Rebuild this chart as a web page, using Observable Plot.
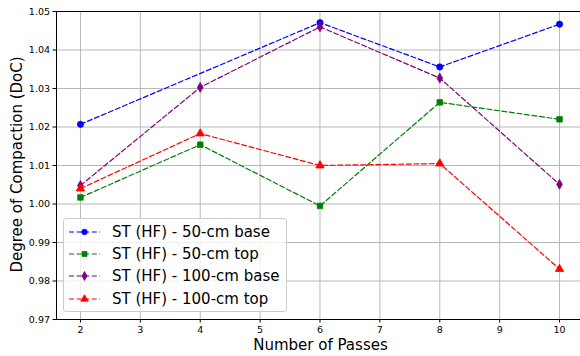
<!DOCTYPE html>
<html>
<head>
<meta charset="utf-8">
<script src="https://cdn.jsdelivr.net/npm/d3@7"></script>
<script src="https://cdn.jsdelivr.net/npm/@observablehq/plot@0.6"></script>
<style>
  body { margin: 0; background: #fff; }
  #wrap { position: relative; width: 580px; height: 356px; overflow: hidden; font-family: "DejaVu Sans", sans-serif; }
  #legend { position: absolute; left: 63px; top: 218px; width: 222px; height: 92px;
    background: rgba(255,255,255,0.8); border: 1px solid #cccccc; border-radius: 3px; }
  .row { position: absolute; left: 0; height: 22px; display: flex; align-items: center; }
  .row span { font-size: 15px; color: #000; margin-left: 6px; white-space: nowrap; }
</style>
</head>
<body>
<div id="wrap"></div>
<script>
// ---- data ----
const seriesNames = ["ST (HF) - 50-cm base", "ST (HF) - 50-cm top", "ST (HF) - 100-cm base", "ST (HF) - 100-cm top"];
const passesBase50 = [2, 6, 8, 10];
const docBase50 = [1.0207, 1.0471, 1.0356, 1.0467];
const passes = [2, 4, 6, 8, 10];
const docTop50 = [1.0017, 1.0154, 0.9995, 1.0264, 1.0220];
const docBase100 = [1.0048, 1.0303, 1.0460, 1.0327, 1.0051];
const docTop100 = [1.0040, 1.0183, 1.0100, 1.0105, 0.9831];
const xTicks = [2, 3, 4, 5, 6, 7, 8, 9, 10];
const yTicks = [0.97, 0.98, 0.99, 1.00, 1.01, 1.02, 1.03, 1.04, 1.05];

const colors = ["blue", "green", "purple", "red"];
const symbols = ["circle", "square", "diamond", "triangle"];
const d3symbols = [d3.symbolCircle, d3.symbolSquare, d3.symbolDiamond, d3.symbolTriangle];
const radii = [3.1, 3.1, 3.0, 3.1];

const rows = [];
passesBase50.forEach((p, i) => rows.push({series: seriesNames[0], k: 0, x: p, y: docBase50[i]}));
passes.forEach((p, i) => rows.push({series: seriesNames[1], k: 1, x: p, y: docTop50[i]}));
passes.forEach((p, i) => rows.push({series: seriesNames[2], k: 2, x: p, y: docBase100[i]}));
passes.forEach((p, i) => rows.push({series: seriesNames[3], k: 3, x: p, y: docTop100[i]}));

const marks = [
  Plot.gridX(xTicks, {stroke: "#b0b0b0", strokeOpacity: 1, strokeWidth: 0.9}),
  Plot.gridY(yTicks, {stroke: "#b0b0b0", strokeOpacity: 1, strokeWidth: 0.9}),
  Plot.ruleX([1.6], {stroke: "black", strokeWidth: 1}),
  Plot.ruleY([0.97], {stroke: "black", strokeWidth: 1}),
  Plot.ruleY([1.05], {stroke: "black", strokeWidth: 1}),
  Plot.axisX(xTicks, {tickSize: 3.5, tickPadding: 3, fontSize: 9.5, label: null, tickFormat: d => String(d)}),
  Plot.axisY(yTicks, {tickSize: 3.5, tickPadding: 3, fontSize: 9.5, label: null, tickFormat: d3.format(".2f")}),
];
seriesNames.forEach((s, k) => {
  const d = rows.filter(r => r.k === k);
  marks.push(Plot.line(d, {x: "x", y: "y", stroke: colors[k], strokeWidth: 1.2, strokeDasharray: "5,2.6"}));
  marks.push(Plot.dot(d, {x: "x", y: "y", fill: colors[k], stroke: colors[k], strokeWidth: 0.8, symbol: () => symbols[k], r: radii[k]}));
});
marks.push(Plot.text(["Number of Passes"], {frameAnchor: "bottom", lineAnchor: "middle", dy: 26, dx: 2, fontSize: 15, fill: "black"}));
marks.push(Plot.text(["Degree of Compaction (DoC)"], {frameAnchor: "left", textAnchor: "middle", lineAnchor: "middle", dx: -39, dy: -1, rotate: -90, fontSize: 15, fill: "black"}));

const chart = Plot.plot({
  width: 580,
  height: 356,
  marginLeft: 56,
  marginRight: 0,
  marginTop: 11,
  marginBottom: 37,
  style: {fontFamily: "DejaVu Sans, sans-serif", color: "black", background: "white", overflow: "visible"},
  x: {domain: [1.6, 10.35]},
  y: {domain: [0.97, 1.05]},
  symbol: {type: "identity"},
  marks
});
const wrap = document.getElementById("wrap");
wrap.appendChild(chart);

// legend (inside the plot area)
const legend = document.createElement("div");
legend.id = "legend";
seriesNames.forEach((s, k) => {
  const row = document.createElement("div");
  row.className = "row";
  row.style.top = (2 + k * 22.2) + "px";
  const sym = d3.symbol(d3symbols[k], Math.PI * Math.pow(radii[k] * 0.9, 2))();
  row.innerHTML = `<svg width="42" height="22"><line x1="5" x2="36" y1="11" y2="11" stroke="${colors[k]}" stroke-width="1.2" stroke-dasharray="5,2.6"/><path d="${sym}" transform="translate(20.5,11)" fill="${colors[k]}" stroke="${colors[k]}" stroke-width="0.8"/></svg><span>${s}</span>`;
  legend.appendChild(row);
});
wrap.appendChild(legend);
</script>
</body>
</html>
